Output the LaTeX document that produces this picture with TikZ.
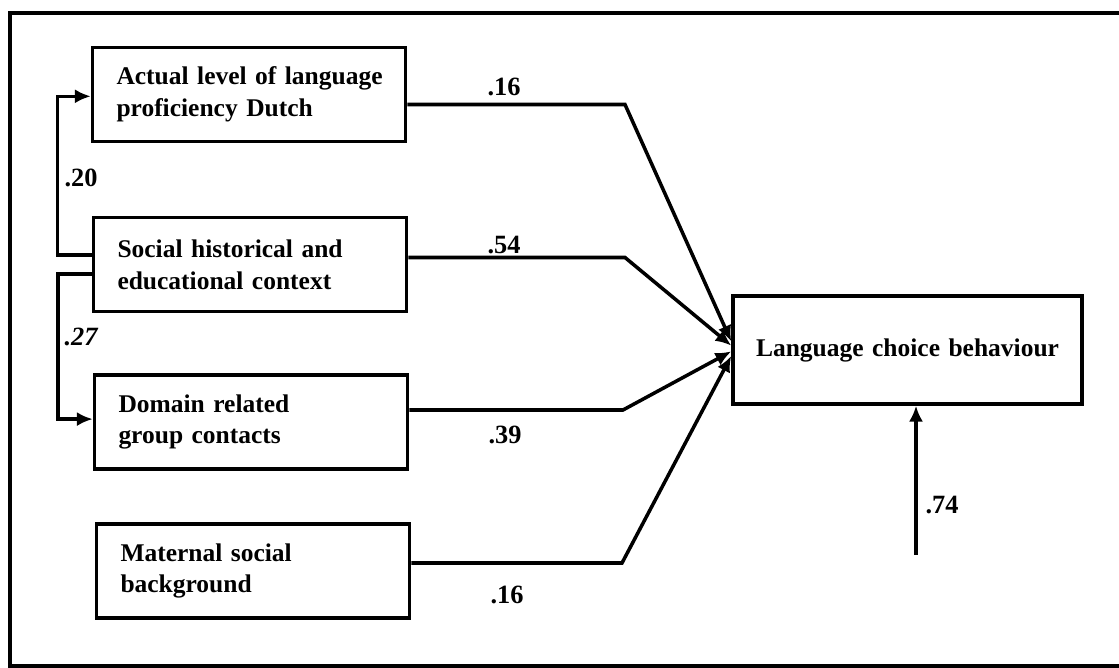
\documentclass[tikz,border=0pt]{standalone}
\usepackage{fontspec}
\setmainfont{Liberation Serif}
\usetikzlibrary{arrows.meta}
\hyphenpenalty=10000
\exhyphenpenalty=10000

\begin{document}
\begin{tikzpicture}[scale=0.2,
		box/.style={draw=black, line width=2pt, text width=5.3cm, inner xsep=0.48cm, inner ysep=0pt, minimum height=1.88cm, align=left, font=\fontsize{14.5}{18}\selectfont\bfseries},
		wire/.style={black, line width=2pt},
		arrowline/.style={wire, -{Latex[length=9pt,width=8pt]}},
		coef/.style={inner sep=0pt, font=\fontsize{15}{16}\selectfont\bfseries}]
		\useasboundingbox (0,0) rectangle (111.9,-66.8);
		% outer frame, its right side lies off the page
		\draw [wire] (114,-1.3) -- (1,-1.3) -- (1,-66.6) -- (114,-66.6);
		% boxes
		\node [box] (actual) at (24.9,-9.45) {\mbox{Actual level of language}\\proficiency Dutch};
		\node [box] (social) at (25,-26.45) {\mbox{Social historical and}\\educational context};
		\node [box] (domain) at (25.1,-42.2) {Domain related\\group contacts};
		\node [box] (maternal) at (25.3,-57.1) {Maternal social\\background};
		\node [box, text width=6.1cm, inner xsep=0.44cm, minimum height=2.16cm, align=center] (choice) at (90.75,-35) {Language choice behaviour};
		% left side
		\coordinate (l20) at (5.75,-25.5);
		\coordinate (l27) at (5.8,-27.4);
		\draw [arrowline] (social.west |- l20) -- (l20) |- ([yshift=-0.18cm]actual.west);
		\draw [arrowline] (social.west |- l27) -- (l27) |- ([yshift=0.29cm]domain.west);
		\node [coef] (w20) at (8.1,-17.8) {.20};
		\node [coef, font=\fontsize{15}{16}\selectfont\bfseries\itshape] (w27) at (8.1,-33.7) {.27};
		% paths into the outcome
		\coordinate (k1) at (62.5,-10.45);
		\coordinate (k2) at (62.5,-25.75);
		\coordinate (k3) at (62.3,-41);
		\coordinate (k4) at (62.2,-56.3);
		\draw [arrowline] (actual.east |- k1) -- (k1) -- ([yshift=0.86cm]choice.west);
		\draw [arrowline] (social.east |- k2) -- (k2) -- ([yshift=0.44cm]choice.west);
		\draw [arrowline] (domain.east |- k3) -- (k3) -- ([yshift=-0.14cm]choice.west);
		\draw [arrowline] (maternal.east |- k4) -- (k4) -- ([yshift=-0.6cm]choice.west);
		\node [coef] (w16a) at (50.4,-8.7) {.16};
		\node [coef] (w54) at (50.4,-24.5) {.54};
		\node [coef] (w39) at (50.5,-43.5) {.39};
		\node [coef] (w16b) at (50.7,-59.5) {.16};
		% residual
		\coordinate (r74) at (91.6,-55.5);
		\draw [arrowline] (r74) -- (r74 |- choice.south);
		\node [coef] (w74) at (94.2,-50.5) {.74};
	\end{tikzpicture}
\end{document}
